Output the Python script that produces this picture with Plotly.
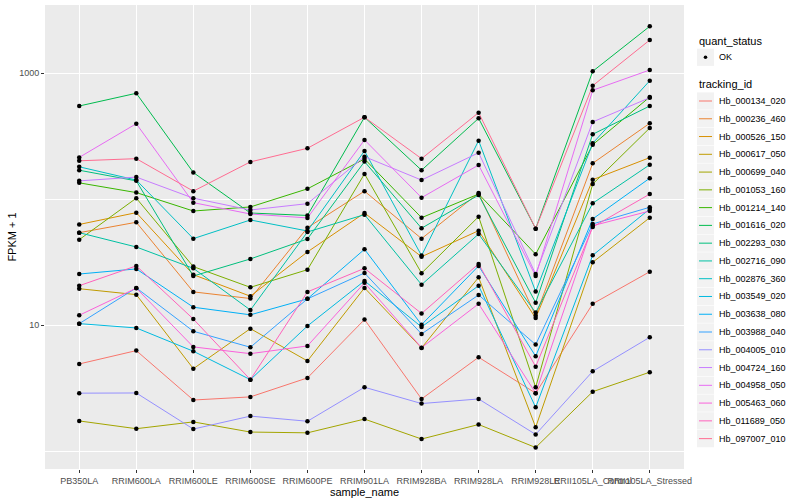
import plotly.graph_objects as go

# ---------------- data ----------------
sample_names = ["PB350LA", "RRIM600LA", "RRIM600LE", "RRIM600SE", "RRIM600PE",
                "RRIM901LA", "RRIM928BA", "RRIM928LA", "RRIM928LE",
                "RRII105LA_Control", "RRII105LA_Stressed"]

tracking_ids = ["Hb_000134_020", "Hb_000236_460", "Hb_000526_150", "Hb_000617_050",
                "Hb_000699_040", "Hb_001053_160", "Hb_001214_140", "Hb_001616_020",
                "Hb_002293_030", "Hb_002716_090", "Hb_002876_360", "Hb_003549_020",
                "Hb_003638_080", "Hb_003988_040", "Hb_004005_010", "Hb_004724_160",
                "Hb_004958_050", "Hb_005463_060", "Hb_011689_050", "Hb_097007_010"]

hb_000134_020 = [4.93, 6.29, 2.55, 2.70, 3.82, 11.1, 2.60, 5.57, 2.89, 14.8, 26.6]
hb_000236_460 = [54.3, 65.7, 18.4, 16.3, 59.5, 116, 48.7, 112, 11.9, 193, 401]
hb_000526_150 = [63.1, 78.3, 25.2, 17.0, 38.2, 77.8, 35.0, 56.3, 11.4, 143, 214]
hb_000617_050 = [19.5, 17.5, 4.52, 9.40, 5.21, 19.8, 6.61, 24.0, 1.55, 31.6, 71.4]
hb_000699_040 = [1.74, 1.51, 1.71, 1.42, 1.40, 1.80, 1.25, 1.63, 1.07, 2.97, 4.24]
hb_001053_160 = [47.8, 102, 29.2, 20.0, 27.6, 159, 25.9, 72.8, 3.22, 132, 368]
hb_001214_140 = [135, 113, 80.7, 86.9, 121, 209, 71.4, 110, 36.6, 271, 649]
hb_001616_020 = [550, 694, 163, 77.8, 74.4, 448, 170, 439, 58.4, 1037, 2360]
hb_002293_030 = [170, 140, 24.6, 33.6, 48.4, 199, 58.9, 108, 15.1, 328, 550]
hb_002716_090 = [54.3, 41.8, 28.3, 13.2, 55.0, 75.5, 21.0, 53.0, 12.6, 93.0, 188]
hb_002876_360 = [181, 142, 48.7, 68.5, 56.0, 242, 35.7, 292, 18.5, 278, 873]
hb_003549_020 = [10.3, 9.52, 6.22, 3.70, 9.87, 22.5, 9.70, 20.6, 2.23, 35.9, 83.8]
hb_003638_080 = [25.5, 28.0, 13.9, 12.1, 16.2, 40.1, 10.1, 29.6, 5.67, 69.8, 147]
hb_003988_040 = [10.3, 19.8, 8.96, 6.69, 16.2, 26.0, 8.53, 17.4, 7.02, 63.7, 86.4]
hb_004005_010 = [2.89, 2.90, 1.50, 1.90, 1.73, 3.22, 2.39, 2.60, 1.36, 4.31, 8.03]
hb_004724_160 = [140, 150, 102, 82.2, 92.3, 218, 142, 234, 25.5, 411, 640]
hb_004958_050 = [215, 398, 94.0, 76.4, 71.1, 296, 103, 187, 24.6, 733, 1062]
hb_005463_060 = [12.0, 19.7, 6.73, 5.95, 6.85, 21.7, 6.64, 14.8, 2.89, 61.7, 80.7]
hb_011689_050 = [20.6, 29.6, 11.2, 3.70, 18.4, 28.3, 12.4, 30.7, 4.69, 60.3, 110]
hb_097007_010 = [202, 210, 116, 198, 254, 448, 210, 487, 58.4, 797, 1837]

series_values = [hb_000134_020, hb_000236_460, hb_000526_150, hb_000617_050,
                 hb_000699_040, hb_001053_160, hb_001214_140, hb_001616_020,
                 hb_002293_030, hb_002716_090, hb_002876_360, hb_003549_020,
                 hb_003638_080, hb_003988_040, hb_004005_010, hb_004724_160,
                 hb_004958_050, hb_005463_060, hb_011689_050, hb_097007_010]

quant_status = ["OK"]
y_tick_values = [10, 1000]
y_tick_labels = ["10", "1000"]
y_minor_values = [1, 100]

# ---------------- style ----------------
colors = ["#F8766D", "#EA8331", "#D89000", "#C09B00", "#A3A500", "#7CAE00", "#39B600",
          "#00BB4E", "#00BF7D", "#00C1A3", "#00BFC4", "#00BAE0", "#00B0F6", "#35A2FF",
          "#9590FF", "#C77CFF", "#E76BF3", "#FA62DB", "#FF62BC", "#FF6C91"]

FONT = "Liberation Sans, Arial, Helvetica, sans-serif"
W, H = 800, 500
ML, MR, MT, MB = 45, 116, 5, 31
PW, PH = W - ML - MR, H - MT - MB


def px_x(px):
    return (px - ML) / PW


def px_y(py):
    return (H - MB - py) / PH


fig = go.Figure()

for tid, vals, col in zip(tracking_ids, series_values, colors):
    fig.add_trace(go.Scatter(x=sample_names, y=vals, mode="lines", name=tid,
                             line=dict(color=col, width=1), showlegend=False))

all_x, all_y = [], []
for vals in series_values:
    all_x += sample_names
    all_y += vals
fig.add_trace(go.Scatter(x=all_x, y=all_y, mode="markers", name=quant_status[0],
                         marker=dict(color="black", size=4.5), showlegend=False))

# ---------------- manual ggplot-like legend ----------------
shapes = []
annotations = []
lx0, lx1 = 697, 714
tx = 717

annotations.append(dict(text="quant_status", x=px_x(lx0), y=px_y(40.7), xref="paper", yref="paper",
                        xanchor="left", yanchor="middle", showarrow=False,
                        font=dict(size=11, color="black", family=FONT)))
shapes.append(dict(type="rect", xref="paper", yref="paper", x0=px_x(lx0), x1=px_x(lx1),
                   y0=px_y(48.7), y1=px_y(65.9), fillcolor="#F2F2F2", line=dict(width=0),
                   layer="below"))
shapes.append(dict(type="circle", xref="paper", yref="paper", x0=px_x(703.7), x1=px_x(707.3),
                   y0=px_y(55.5), y1=px_y(59.1), fillcolor="black", line=dict(width=0)))
annotations.append(dict(text=quant_status[0], x=px_x(tx), y=px_y(57.3), xref="paper", yref="paper",
                        xanchor="left", yanchor="middle", showarrow=False,
                        font=dict(size=9, color="black", family=FONT)))

annotations.append(dict(text="tracking_id", x=px_x(lx0), y=px_y(84), xref="paper", yref="paper",
                        xanchor="left", yanchor="middle", showarrow=False,
                        font=dict(size=11, color="black", family=FONT)))
step = 17.77
for i, (tid, col) in enumerate(zip(tracking_ids, colors)):
    cy = 101 + i * step
    shapes.append(dict(type="rect", xref="paper", yref="paper", x0=px_x(lx0), x1=px_x(lx1),
                       y0=px_y(cy - 8.6), y1=px_y(cy + 8.6), fillcolor="#F2F2F2",
                       line=dict(width=0), layer="below"))
    shapes.append(dict(type="line", xref="paper", yref="paper", x0=px_x(lx0 + 2), x1=px_x(lx1 - 2),
                       y0=px_y(cy), y1=px_y(cy), line=dict(color=col, width=1)))
    annotations.append(dict(text=tid, x=px_x(tx), y=px_y(cy), xref="paper", yref="paper",
                            xanchor="left", yanchor="middle", showarrow=False,
                            font=dict(size=9, color="black", family=FONT)))

fig.update_layout(
    width=W, height=H,
    margin=dict(l=ML, r=MR, t=MT, b=MB, pad=0),
    paper_bgcolor="white", plot_bgcolor="#EBEBEB",
    font=dict(family=FONT, color="black"),
    showlegend=False,
    shapes=shapes, annotations=annotations,
    xaxis=dict(type="category", categoryorder="array", categoryarray=sample_names,
               range=[-0.6, 10.6], showgrid=True, gridcolor="white", gridwidth=1.1,
               zeroline=False, showline=False, ticks="outside", ticklen=3,
               tickcolor="#333333", tickwidth=1, tickangle=0,
               tickfont=dict(size=9, color="#4D4D4D", family=FONT),
               title=dict(text="sample_name", font=dict(size=11, color="black", family=FONT),
                          standoff=0),
               automargin=False, fixedrange=True),
    yaxis=dict(type="log", range=[-0.141, 3.542], tickvals=y_tick_values, ticktext=y_tick_labels,
               showgrid=True, gridcolor="white", gridwidth=1.1, zeroline=False, showline=False,
               ticks="outside", ticklen=3, tickcolor="#333333", tickwidth=1,
               tickfont=dict(size=9, color="#4D4D4D", family=FONT),
               minor=dict(tickvals=y_minor_values, showgrid=True, gridcolor="white",
                          gridwidth=0.55, ticks=""),
               title=dict(text="FPKM + 1", font=dict(size=11, color="black", family=FONT),
                          standoff=0),
               automargin=False, fixedrange=True),
)

fig.write_html("out.html", config={"displayModeBar": False},
               post_script="document.body.style.margin='0px';")
